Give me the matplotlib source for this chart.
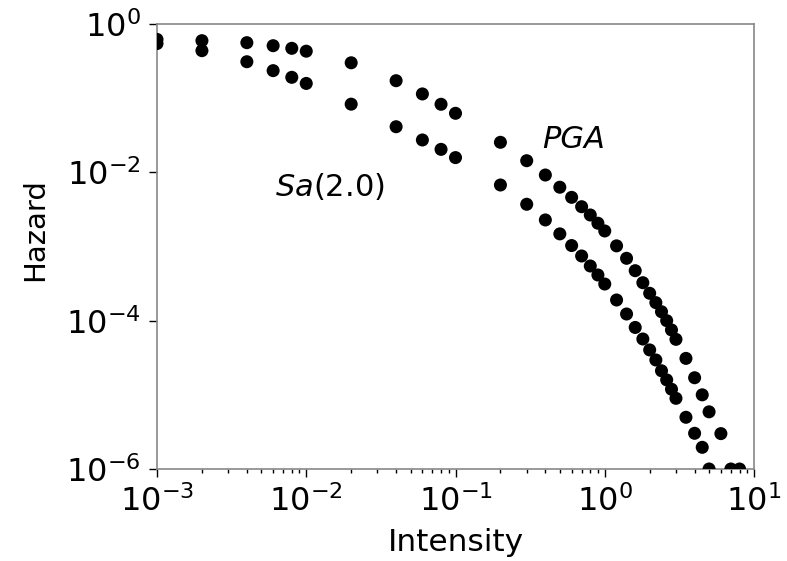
import matplotlib
matplotlib.use('Agg')
import matplotlib.pyplot as plt

# intensity levels (same for both curves)
x_pga = [0.001, 0.002, 0.004, 0.006, 0.008, 0.01, 0.02, 0.04, 0.06, 0.08, 0.1,
         0.2, 0.3, 0.4, 0.5, 0.6, 0.7, 0.8, 0.9, 1.0, 1.2, 1.4, 1.6, 1.8, 2.0,
         2.2, 2.4, 2.6, 2.8, 3.0, 3.5, 4.0, 4.5, 5.0, 6.0, 7.0, 8.0]
# hazard for PGA (upper curve)
h_pga = [0.62, 0.596, 0.56, 0.51, 0.47, 0.43, 0.30, 0.172, 0.114, 0.0827, 0.0625,
         0.0254, 0.01435, 0.0092, 0.0063, 0.0046, 0.00344, 0.00266, 0.00206, 0.00162,
         0.00102, 0.000693, 0.000472, 0.000325, 0.000234, 0.000175, 0.000132, 0.0001,
         7.5e-5, 5.6e-5, 3.1e-5, 1.7e-5, 1.0e-5, 5.9e-6, 3.0e-6, 1e-6, 1e-6]

x_sa = [0.001, 0.002, 0.004, 0.006, 0.008, 0.01, 0.02, 0.04, 0.06, 0.08, 0.1,
        0.2, 0.3, 0.4, 0.5, 0.6, 0.7, 0.8, 0.9, 1.0, 1.2, 1.4, 1.6, 1.8, 2.0,
        2.2, 2.4, 2.6, 2.8, 3.0, 3.5, 4.0, 4.5, 5.0]
# hazard for Sa(2.0) (lower curve)
h_sa = [0.545, 0.437, 0.31, 0.235, 0.191, 0.158, 0.083, 0.0412, 0.0273, 0.0204, 0.0158,
        0.00675, 0.00371, 0.00228, 0.00148, 0.00103, 0.000745, 0.000546, 0.000413,
        0.000312, 0.00019, 0.000123, 8.1e-5, 5.66e-5, 4.03e-5, 2.95e-5, 2.11e-5,
        1.59e-5, 1.19e-5, 8.97e-6, 4.98e-6, 3.03e-6, 1.96e-6, 1e-6]

fig = plt.figure(figsize=(7.87, 5.61), dpi=100)
ax = fig.add_axes([157/787, 1-469/561, (754-157)/787, (469-24)/561])

ax.scatter(x_pga, h_pga, s=88, color='k', edgecolors='none', zorder=3)
ax.scatter(x_sa, h_sa, s=88, color='k', edgecolors='none', zorder=3)

ax.set_xscale('log')
ax.set_yscale('log')
ax.set_xlim(1e-3, 1e1)
ax.set_ylim(1e-6, 1e0)
ax.set_yticks([1e0, 1e-2, 1e-4, 1e-6])
ax.yaxis.set_minor_locator(matplotlib.ticker.NullLocator())

ax.text(0.38, 0.021, 'PGA', fontsize=22, style='italic', ha='left', va='baseline')
ax.text(0.0062, 0.0048, r'$Sa$(2.0)', fontsize=22, ha='left', va='baseline')

ax.set_xlabel('Intensity', fontsize=22.5, labelpad=7)
ax.set_ylabel('Hazard', fontsize=21)
ax.yaxis.set_label_coords(-0.181, 0.537)
ax.tick_params(which='major', labelsize=23, length=6, width=1, pad=6)
ax.tick_params(which='minor', length=3, width=1)
for s in ax.spines.values():
    s.set_color('#888888')
    s.set_linewidth(1.2)

fig.savefig('out.png', dpi=100)
